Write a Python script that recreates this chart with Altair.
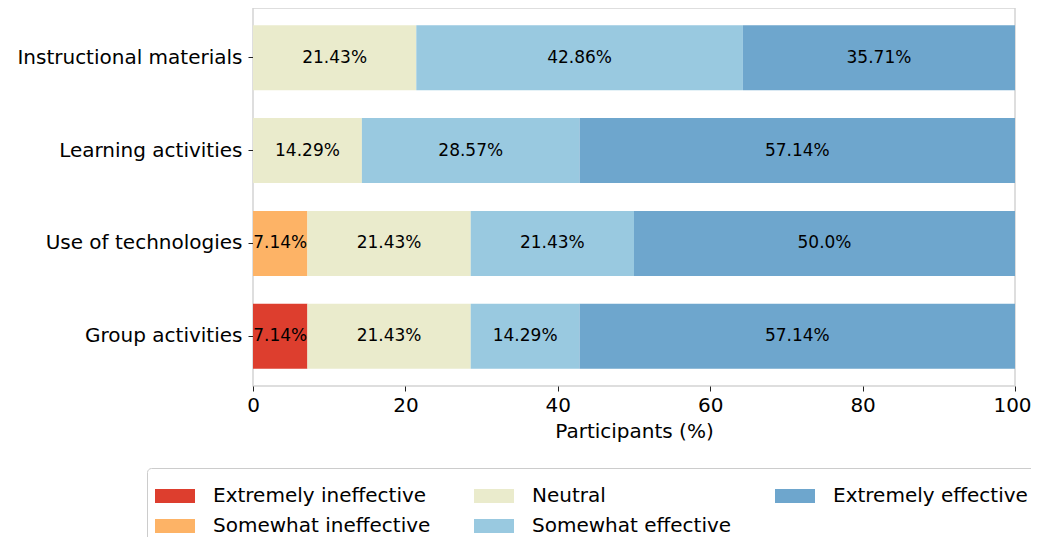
import altair as alt
import pandas as pd

tasks = ["Instructional materials", "Learning activities", "Use of technologies", "Group activities"]
levels = ["Extremely ineffective", "Somewhat ineffective", "Neutral", "Somewhat effective", "Extremely effective"]
colors = ["#dd3e2e", "#fdb366", "#eaebcc", "#99c9e0", "#6ea6cd"]

extremely_ineffective = [0, 0, 0, 7.14]
somewhat_ineffective = [0, 0, 7.14, 0]
neutral = [21.43, 14.29, 21.43, 21.43]
somewhat_effective = [42.86, 28.57, 21.43, 14.29]
extremely_effective = [35.71, 57.14, 50.0, 57.14]
series = [extremely_ineffective, somewhat_ineffective, neutral, somewhat_effective, extremely_effective]
x_ticks = [0, 20, 40, 60, 80, 100]

rows = []
for li, (lvl, vals) in enumerate(zip(levels, series)):
    for t, v in zip(tasks, vals):
        rows.append({"task": t, "level": lvl, "lvl": li, "value": v,
                     "label": f"{v}%" if v > 0 else ""})
df = pd.DataFrame(rows)

# legend is filled row-major; reorder so it reads column-major like the reference
legend_order = [levels[0], levels[2], levels[4], levels[1], levels[3]]
legend_colors = [colors[levels.index(l)] for l in legend_order]

FONT = "DejaVu Sans"

base = (
    alt.Chart(df)
    .transform_stack(stack="value", as_=["x0", "x1"], groupby=["task"],
                     sort=[alt.SortField("lvl", order="ascending")])
    .transform_calculate(mid="(datum.x0 + datum.x1) / 2")
)

y_enc = alt.Y("task:N", sort=tasks,
              scale=alt.Scale(paddingInner=0.3, paddingOuter=0.185),
              axis=alt.Axis(title=None, labelPadding=6, labelLimit=0))

x_axis = alt.Axis(
    title="Participants (%)", values=x_ticks, format="d",
    labelFlush=False, labelPadding=4, titlePadding=6,
    labelOffset={"condition": {"test": "datum.value == 100", "value": -3}, "value": 0},
)

bars = base.transform_filter("datum.value > 0").mark_bar(strokeWidth=0).encode(
    y=y_enc,
    x=alt.X("x0:Q", scale=alt.Scale(domain=[0, 100], nice=False, zero=True), axis=x_axis),
    x2="x1:Q",
    color=alt.Color("level:N",
                    scale=alt.Scale(domain=legend_order, range=legend_colors),
                    legend=alt.Legend(title=None, orient="none", legendX=-106, legendY=460,
                                      columns=3, direction="horizontal",
                                      symbolType="M-1,-0.35H1V0.35H-1Z", symbolSize=1600,
                                      symbolStrokeWidth=0, symbolOpacity=1,
                                      labelFontSize=20, labelFont=FONT, labelColor="black",
                                      labelOffset=18, labelLimit=0,
                                      columnPadding=43, rowPadding=0,
                                      padding=8, strokeColor="#cccccc", cornerRadius=4,
                                      fillColor="white")),
)

labels = base.transform_filter("datum.value > 0").mark_text(
    fontSize=17, font=FONT, color="black", baseline="middle", align="center"
).encode(
    y=alt.Y("task:N", sort=tasks),
    x=alt.X("mid:Q"),
    text="label:N",
)

chart = (
    alt.layer(bars, labels)
    .properties(width=762, height=378,
                autosize=alt.AutoSizeParams(type="none"),
                padding={"left": 245, "top": 0, "right": 16, "bottom": 151})
    .configure_view(stroke="#d4d4d4", strokeWidth=1.5)
    .configure_axis(domain=False, grid=False, tickColor="#222222", tickSize=5,
                    tickWidth=1, labelFont=FONT, labelFontSize=20, labelColor="black",
                    titleFont=FONT, titleFontSize=20, titleFontWeight="normal",
                    titleColor="black")
)

chart.save("out.html", embed_options={"renderer": "svg", "actions": False})
